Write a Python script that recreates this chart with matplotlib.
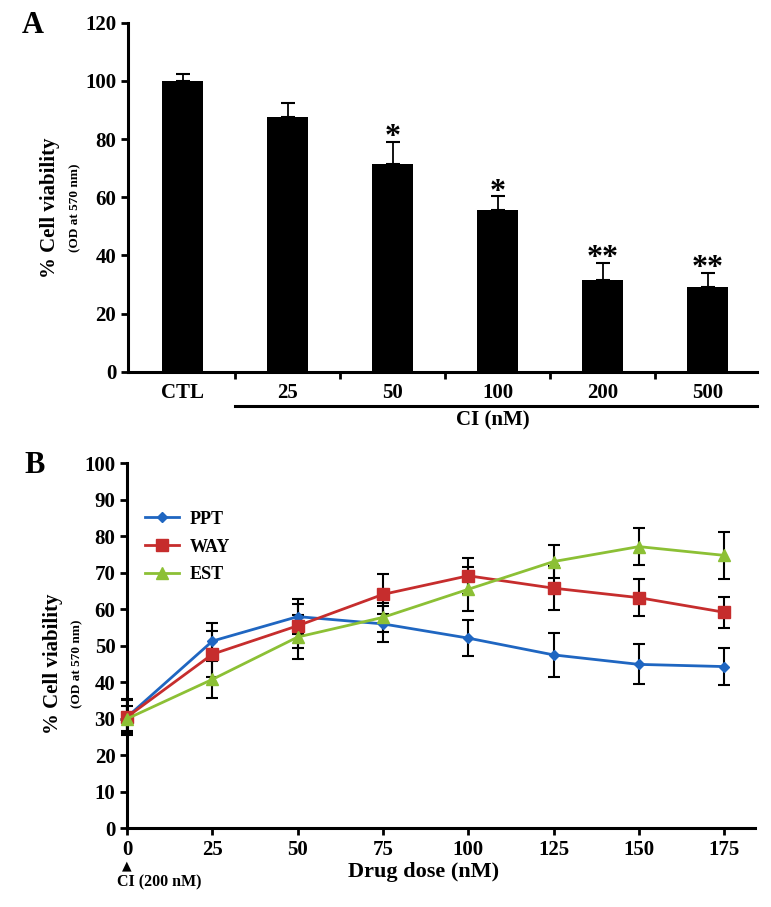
import matplotlib
matplotlib.use('Agg')
import matplotlib.pyplot as plt
import matplotlib.transforms as mtrans
import numpy as np

plt.rcParams['font.family'] = ['Liberation Serif', 'DejaVu Serif']
plt.rcParams['font.weight'] = 'bold'
plt.rcParams['axes.labelweight'] = 'bold'

# Panel A data
groups = ['CTL', '25', '50', '100', '200', '500']
viab_a = [100.0, 87.6, 71.5, 55.5, 31.4, 29.0]
err_a = [2.4, 4.8, 7.4, 4.8, 6.0, 4.9]
stars = ['', '', '*', '*', '**', '**']

# Panel B data
dose = [0, 25, 50, 75, 100, 125, 150, 175]
ppt = [30.5, 51.3, 58.0, 56.0, 52.1, 47.5, 44.9, 44.3]
ppt_err = [4.5, 5.0, 4.7, 5.0, 5.0, 6.0, 5.5, 5.0]
way = [30.5, 47.7, 55.5, 64.1, 69.2, 65.8, 63.2, 59.2]
way_err = [5.0, 6.3, 6.0, 5.5, 5.0, 6.0, 5.0, 4.3]
est = [30.0, 40.8, 52.4, 57.8, 65.5, 73.1, 77.2, 74.8]
est_err = [3.5, 5.0, 6.0, 4.0, 6.0, 4.5, 5.0, 6.5]

fig = plt.figure(figsize=(7.71, 9.07), dpi=100)

# ---------- A ----------
ax = fig.add_axes([0.166, 0.590, 0.816, 0.385])
x = np.arange(len(groups))
ax.bar(x, viab_a, width=0.39, color='black', zorder=2)
ax.errorbar(x, viab_a, yerr=[np.zeros(len(x)), err_a], fmt='none', ecolor='black',
            elinewidth=1.3, capsize=5, capthick=1.5, zorder=1)
for xi, v, e, s in zip(x, viab_a, err_a, stars):
    if s:
        ax.text(xi, v + e - 3.5, s, ha='center', va='bottom', fontsize=23)
ax.set_xlim(-0.52, 5.47)
ax.set_ylim(0, 120)
ax.set_yticks(range(0, 121, 20))
ax.tick_params(axis='y', labelsize=15, width=2, length=5, direction='out')
ax.set_xticks([0.5, 1.5, 2.5, 3.5, 4.5])
ax.set_xticklabels([])
ax.tick_params(axis='x', width=2, length=5, direction='out')
trA = mtrans.blended_transform_factory(ax.transData, ax.transAxes)
for xi, g in zip(x, groups):
    ax.text(xi, -0.06, g, transform=trA, ha='center', va='center', fontsize=15)
for s in ['top', 'right']:
    ax.spines[s].set_visible(False)
for s in ['left', 'bottom']:
    ax.spines[s].set_linewidth(2.2)
ax.plot([0.5, 5.47], [-0.097, -0.097], color='black', lw=2.2, transform=trA, clip_on=False)
ax.text(2.95, -0.138, 'CI (nM)', transform=trA, ha='center', va='center', fontsize=15)
ax.text(-0.124, 0.47, '% Cell viability', transform=ax.transAxes, rotation=90,
        ha='center', va='center', fontsize=15)
ax.text(-0.084, 0.47, '(OD at 570 nm)', transform=ax.transAxes, rotation=90,
        ha='center', va='center', fontsize=9.5)
fig.text(0.028, 0.972, 'A', fontsize=22, ha='left', va='center')

# ---------- B ----------
bx = fig.add_axes([0.165, 0.087, 0.814, 0.402])
series = [('PPT', ppt, ppt_err, '#1f66c1', 'D', 5),
          ('WAY', way, way_err, '#c62d2d', 's', 8),
          ('EST', est, est_err, '#8cc035', '^', 8)]
for name, vals, errs, col, mk, ms in series:
    bx.errorbar(dose, vals, yerr=errs, fmt='none', ecolor='black', elinewidth=1.5,
                capsize=4.5, capthick=1.5, zorder=2, clip_on=False)
for name, vals, errs, col, mk, ms in series:
    bx.plot(dose, vals, color=col, lw=2, marker=mk, markersize=ms, label=name, zorder=3,
            clip_on=False)
bx.set_xlim(0, 184)
bx.set_ylim(0, 100)
bx.set_xticks(dose)
bx.set_yticks(range(0, 101, 10))
bx.tick_params(axis='both', labelsize=15, width=2, length=5, direction='out')
for s in ['top', 'right']:
    bx.spines[s].set_visible(False)
for s in ['left', 'bottom']:
    bx.spines[s].set_linewidth(2.2)
trB = mtrans.blended_transform_factory(bx.transData, bx.transAxes)
bx.text(87, -0.12, 'Drug dose (nM)', transform=trB, ha='center', va='center', fontsize=16)
bx.text(-0.118, 0.45, '% Cell viability', transform=bx.transAxes, rotation=90,
        ha='center', va='center', fontsize=15)
bx.text(-0.080, 0.45, '(OD at 570 nm)', transform=bx.transAxes, rotation=90,
        ha='center', va='center', fontsize=9.5)
bx.text(0, -0.105, '\u25b2', transform=trB, ha='center', va='center', fontsize=9,
        family='DejaVu Sans')
bx.text(-3, -0.148, 'CI (200 nM)', transform=trB, ha='left', va='center', fontsize=11.5)
bx.legend(loc='upper left', bbox_to_anchor=(0.003, 0.915), frameon=False, fontsize=13,
          handlelength=1.85, handletextpad=0.6, labelspacing=0.6)
fig.text(0.032, 0.487, 'B', fontsize=22, ha='left', va='center')

fig.savefig('out.png', dpi=100)
